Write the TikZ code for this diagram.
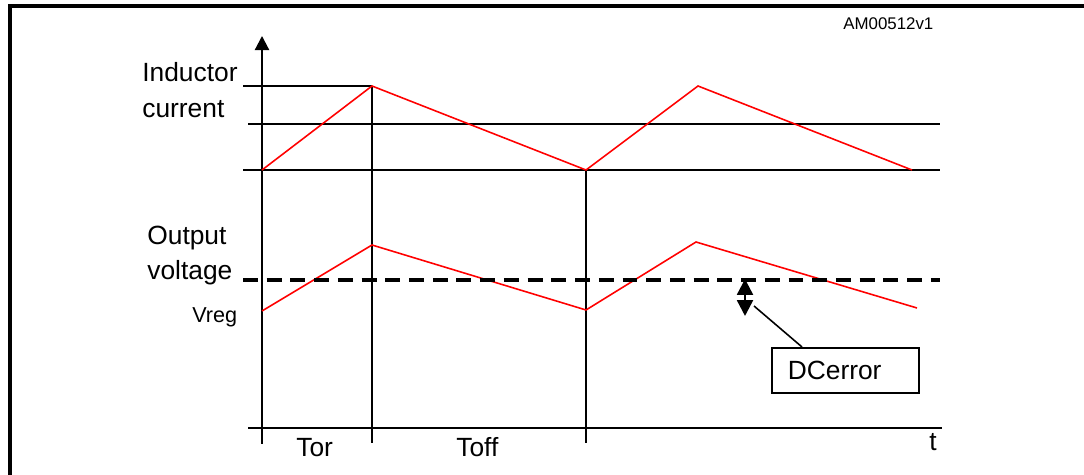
\documentclass[tikz,border=0pt]{standalone}
\usepackage{fontspec}
\setmainfont{Liberation Sans}
\usetikzlibrary{arrows.meta}
\begin{document}
\begin{tikzpicture}[x=0.02cm,y=-0.02cm,
		wave/.style={red,line width=0.9pt},
		gridline/.style={black,line width=1.2pt},
		lbl/.style={font=\fontsize{15}{18}\selectfont,anchor=base west,inner sep=0pt}]
	\useasboundingbox (0,0) rectangle (1084,475);
	% frame
	\draw[line width=2pt] (10,475) -- (10,6) -- (1084,6);
	\node[font=\fontsize{9.6}{11}\selectfont,anchor=base west,inner sep=0pt] (code) at (843,30) {AM00512v1};
	% axes and levels
	\draw[gridline,-{Triangle[length=8pt,width=8pt]}] (262,444) -- (262,36);
	\draw[gridline] (243,86) -- (372,86);
	\draw[gridline] (248,124) -- (940,124);
	\draw[gridline] (243,170) -- (940,170);
	\draw[gridline] (248,428) -- (942,428);
	\draw[gridline] (372,86) -- (372,443);
	\draw[gridline] (586,170) -- (586,443);
	% waveforms
	\draw[wave] (262,170) -- (372,86) -- (586,170) -- (698,86) -- (912,170);
	\draw[wave] (262,311) -- (372,245) -- (586,310) -- (696,242) -- (917,308);
	\draw[line width=2.8pt,dash pattern=on 8.5pt off 5pt] (243,280) -- (940,280);
	% error marker
	\draw[line width=1.4pt,{Triangle[length=9pt,width=9pt]}-{Triangle[length=9pt,width=9pt]}] (745,279) -- (745,316);
	\coordinate (err) at (754,306);
	\node[draw,line width=0.9pt,anchor=north west,minimum width=2.94cm,minimum height=0.9cm,
		text width=2.3cm,inner xsep=0.32cm,align=left,font=\fontsize{15}{18}\selectfont] (errbox) at (771,347) {DCerror};
	\draw[line width=0.9pt] (err) -- ([xshift=0.62cm]errbox.north west);
	% labels
	\node[lbl] (ind) at (142,82) {Inductor};
	\node[lbl] (cur) at (142,118) {current};
	\node[lbl] (out) at (147,245) {Output};
	\node[lbl] (volt) at (147,280) {voltage};
	\node[lbl,font=\fontsize{12.3}{14}\selectfont] (vreg) at (192,323) {Vreg};
	\node[lbl] (ton) at (296,457) {Tor};
	\node[lbl] (toff) at (456,457) {Toff};
	\node[lbl] (tt) at (929,451) {t};
\end{tikzpicture}
\end{document}
